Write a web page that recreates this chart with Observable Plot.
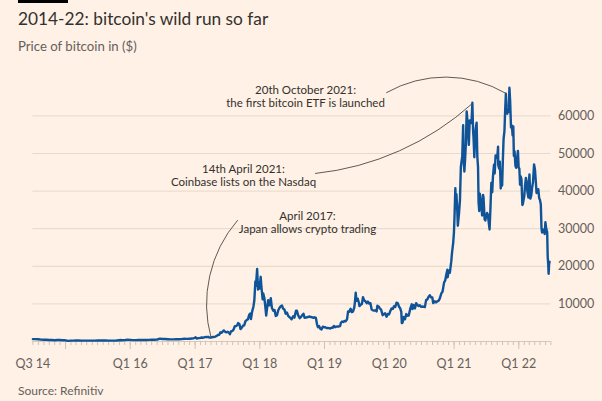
<!DOCTYPE html>
<html><head><meta charset="utf-8">
<script src="https://cdn.jsdelivr.net/npm/d3@7"></script>
<script src="https://cdn.jsdelivr.net/npm/@observablehq/plot@0.6"></script>
<style>
body{margin:0;background:#fff1e5;width:602px;height:401px;overflow:hidden;position:relative;font-family:Lato,"Noto Sans",sans-serif;}
#bar{position:absolute;left:18px;top:0;width:50px;height:3px;background:#000;}
#title{position:absolute;left:18px;top:9px;font-size:17.3px;color:#33302e;line-height:20px;white-space:nowrap}
#sub{position:absolute;left:18px;top:38px;font-size:13.2px;color:#66605c;line-height:16px;white-space:nowrap}
#src{position:absolute;left:18px;top:383px;font-size:12px;color:#66605c;line-height:15px;white-space:nowrap}
#chart{position:absolute;left:0;top:60px;}
svg text{font-family:Lato,"Noto Sans",sans-serif;}
</style></head>
<body>
<div id="bar"></div>
<div id="title">2014-22: bitcoin's wild run so far</div>
<div id="sub">Price of bitcoin in ($)</div>
<div id="chart"></div>
<div id="src">Source: Refinitiv</div>
<script>
const dates = [
"2014-07-01","2014-07-15","2014-08-01","2014-08-15","2014-09-01","2014-09-15","2014-10-01","2014-10-15","2014-11-01","2014-11-15","2014-12-01","2014-12-15",
"2015-01-01","2015-01-14","2015-02-01","2015-02-15","2015-03-01","2015-03-15","2015-04-01","2015-04-15","2015-05-01","2015-05-15","2015-06-01","2015-06-15","2015-07-01","2015-07-15","2015-08-01","2015-08-15","2015-09-01","2015-09-15","2015-10-01","2015-10-15","2015-11-01","2015-11-04","2015-11-15","2015-12-01","2015-12-15",
"2016-01-01","2016-01-15","2016-02-01","2016-02-15","2016-03-01","2016-03-15","2016-04-01","2016-04-15","2016-05-01","2016-05-15","2016-06-01","2016-06-17","2016-07-01","2016-07-15","2016-08-01","2016-08-15","2016-09-01","2016-09-15","2016-10-01","2016-10-15","2016-11-01","2016-11-15","2016-12-01","2016-12-15","2016-12-31",
"2017-01-04","2017-01-11","2017-01-18","2017-01-25","2017-02-01","2017-02-08","2017-02-15","2017-02-22","2017-03-01","2017-03-08","2017-03-15","2017-03-22","2017-03-29","2017-04-05","2017-04-12","2017-04-19","2017-04-26","2017-05-03","2017-05-10","2017-05-17","2017-05-24","2017-05-31","2017-06-07","2017-06-12","2017-06-19","2017-06-26","2017-07-03","2017-07-10","2017-07-16","2017-07-23","2017-07-30","2017-08-06","2017-08-13","2017-08-20","2017-08-27","2017-09-01","2017-09-08","2017-09-14","2017-09-21","2017-09-28","2017-10-05","2017-10-12","2017-10-19","2017-10-26","2017-11-02","2017-11-08","2017-11-12","2017-11-19","2017-11-26","2017-12-01","2017-12-07","2017-12-10","2017-12-17","2017-12-22","2017-12-27","2017-12-31",
"2018-01-06","2018-01-10","2018-01-17","2018-01-20","2018-01-27","2018-02-02","2018-02-06","2018-02-10","2018-02-17","2018-02-24","2018-03-04","2018-03-10","2018-03-18","2018-03-25","2018-04-01","2018-04-08","2018-04-15","2018-04-22","2018-04-29","2018-05-06","2018-05-13","2018-05-20","2018-05-27","2018-06-03","2018-06-10","2018-06-17","2018-06-24","2018-06-29","2018-07-08","2018-07-15","2018-07-24","2018-07-29","2018-08-05","2018-08-14","2018-08-21","2018-08-28","2018-09-04","2018-09-11","2018-09-18","2018-09-25","2018-10-02","2018-10-09","2018-10-16","2018-10-23","2018-10-30","2018-11-06","2018-11-13","2018-11-20","2018-11-25","2018-12-01","2018-12-08","2018-12-15","2018-12-22","2018-12-29",
"2019-01-05","2019-01-12","2019-01-19","2019-01-26","2019-02-02","2019-02-09","2019-02-16","2019-02-23","2019-03-02","2019-03-09","2019-03-16","2019-03-23","2019-03-30","2019-04-03","2019-04-10","2019-04-17","2019-04-24","2019-05-01","2019-05-08","2019-05-14","2019-05-21","2019-05-28","2019-06-04","2019-06-11","2019-06-18","2019-06-22","2019-06-26","2019-06-30","2019-07-07","2019-07-14","2019-07-17","2019-07-24","2019-07-31","2019-08-06","2019-08-13","2019-08-20","2019-08-27","2019-09-03","2019-09-10","2019-09-17","2019-09-24","2019-10-01","2019-10-08","2019-10-15","2019-10-22","2019-10-26","2019-11-02","2019-11-09","2019-11-16","2019-11-23","2019-11-25","2019-12-02","2019-12-09","2019-12-17","2019-12-24","2019-12-31",
"2020-01-07","2020-01-14","2020-01-21","2020-01-28","2020-02-04","2020-02-11","2020-02-18","2020-02-25","2020-03-03","2020-03-09","2020-03-12","2020-03-16","2020-03-23","2020-03-30","2020-04-06","2020-04-13","2020-04-20","2020-04-29","2020-05-07","2020-05-11","2020-05-18","2020-05-25","2020-06-01","2020-06-08","2020-06-15","2020-06-22","2020-06-29","2020-07-06","2020-07-13","2020-07-20","2020-07-27","2020-08-03","2020-08-10","2020-08-17","2020-08-24","2020-08-31","2020-09-05","2020-09-14","2020-09-21","2020-09-28","2020-10-05","2020-10-12","2020-10-21","2020-10-28","2020-11-05","2020-11-12","2020-11-18","2020-11-24","2020-11-26","2020-12-01","2020-12-08","2020-12-16","2020-12-20","2020-12-27","2020-12-31",
"2021-01-03","2021-01-08","2021-01-11","2021-01-14","2021-01-18","2021-01-22","2021-01-25","2021-01-29","2021-02-03","2021-02-08","2021-02-12","2021-02-16","2021-02-21","2021-02-23","2021-02-28","2021-03-04","2021-03-08","2021-03-13","2021-03-17","2021-03-22","2021-03-25","2021-03-30","2021-04-04","2021-04-09","2021-04-14","2021-04-18","2021-04-21","2021-04-25","2021-04-29","2021-05-03","2021-05-08","2021-05-12","2021-05-16","2021-05-19","2021-05-23","2021-05-26","2021-05-31","2021-06-05","2021-06-08","2021-06-13","2021-06-16","2021-06-22","2021-06-26","2021-07-01","2021-07-06","2021-07-10","2021-07-15","2021-07-20","2021-07-25","2021-07-30","2021-08-04","2021-08-08","2021-08-14","2021-08-18","2021-08-23","2021-08-28","2021-09-01","2021-09-06","2021-09-07","2021-09-12","2021-09-16","2021-09-21","2021-09-25","2021-09-29","2021-10-03","2021-10-07","2021-10-12","2021-10-16","2021-10-20","2021-10-24","2021-10-28","2021-11-01","2021-11-05","2021-11-09","2021-11-13","2021-11-18","2021-11-23","2021-11-27","2021-12-01","2021-12-04","2021-12-08","2021-12-13","2021-12-17","2021-12-22","2021-12-27","2021-12-31",
"2022-01-04","2022-01-08","2022-01-12","2022-01-16","2022-01-21","2022-01-24","2022-01-28","2022-02-01","2022-02-05","2022-02-10","2022-02-14","2022-02-18","2022-02-24","2022-02-28","2022-03-02","2022-03-07","2022-03-12","2022-03-17","2022-03-22","2022-03-28","2022-04-02","2022-04-06","2022-04-11","2022-04-16","2022-04-21","2022-04-26","2022-04-30","2022-05-05","2022-05-09","2022-05-12","2022-05-16","2022-05-21","2022-05-27","2022-05-31","2022-06-05","2022-06-10","2022-06-13","2022-06-16","2022-06-18","2022-06-21","2022-06-24"
];
const prices = [
640,620,590,500,480,470,385,395,325,390,380,350,
315,180,230,235,260,285,245,220,235,238,225,235,260,285,280,260,230,230,238,255,325,400,330,378,455,
433,375,372,405,432,415,417,430,450,455,535,750,675,665,605,570,575,610,610,640,730,710,750,780,960,
1130,780,890,890,990,1050,1010,1120,1220,1150,1250,1040,1040,1130,1200,1210,1310,1500,1750,1800,2450,2300,2700,2950,2600,2450,2600,2400,1930,2750,2750,3200,4050,4100,4350,4900,4600,3300,3650,4200,4300,5400,5700,5900,7100,7450,5950,8000,9300,10900,16000,14800,19300,13800,15700,14100,
17200,14500,11200,12800,11500,8800,6900,8500,11000,9600,11500,9000,8200,8400,6800,7000,8300,8900,9400,9600,8700,8500,7400,7700,6800,6500,6200,5900,6700,6350,8200,8200,7000,6200,6500,7000,7400,6300,6350,6450,6550,6650,6500,6450,6300,6450,6300,4500,3800,4150,3400,3200,3950,3800,
3800,3600,3600,3550,3450,3650,3650,4150,3800,3950,4000,4000,4100,4900,5300,5200,5450,5400,5900,8000,7900,8700,7800,8000,9100,10700,13000,10800,11400,10300,9400,9800,10000,11800,10900,10700,10200,10600,10100,10200,8500,8300,8200,8300,8000,9500,9300,8800,8500,7300,7000,7300,7500,6600,7300,7200,
8100,8800,8650,9400,9200,10300,10200,9300,8800,7900,4900,5000,6500,5900,7300,6850,6900,8800,9900,8600,9700,8800,10200,9700,9450,9650,9200,9300,9250,9150,11000,11200,11900,12300,11750,11700,10200,10700,10400,10700,10800,11400,12800,13300,15600,16300,17800,19100,17100,18800,18300,21300,23500,26300,29000,
32800,40800,35500,39200,36000,30800,32300,34300,37600,46400,47900,49200,57500,48800,45200,48400,52300,61200,58900,54500,52300,58800,58200,58100,63500,56200,53800,49000,53600,56600,58200,49100,46400,37000,34700,39300,37300,35800,33500,39000,38300,32500,32200,33500,34200,33800,31800,29800,35400,42200,39700,43800,47000,44700,49500,48900,48800,51800,46900,46000,47800,40700,42800,41500,48200,53800,56000,61500,65900,61000,60600,61300,61100,67500,64100,56900,57400,54800,57200,49400,50600,46700,46200,48600,50700,46300,
46000,41700,43900,43100,36300,36600,37700,38700,41400,43500,42500,40000,38300,43200,44400,38000,38800,40900,42400,47100,45800,43200,39500,40400,40500,38100,37700,36500,30100,29000,29800,29400,28600,31700,29900,29100,22500,20400,18000,20700,21200
];
const yTicks = [10000,20000,30000,40000,50000,60000];
const tickDates = ["2014-07-01","2016-01-01","2017-01-01","2018-01-01","2019-01-01","2020-01-01","2021-01-01","2022-01-01"];
const tickLabels = ["Q3 14","Q1 16","Q1 17","Q1 18","Q1 19","Q1 20","Q1 21","Q1 22"];
const annoLine1 = ["20th October 2021:","14th April 2021:","April 2017:"];
const annoLine2 = ["the first bitcoin ETF is launched","Coinbase lists on the Nasdaq","Japan allows crypto trading"];
const annoTextDate = ["2018-09-16","2017-10-01","2018-09-27"];
const annoTextPrice = [65300,44100,31600];
const annoFromDate = ["2019-12-17","2018-11-11","2017-08-28"];
const annoFromPrice = [66200,44700,32200];
const annoToDate = ["2021-10-20","2021-04-14","2017-04-01"];
const annoToPrice = [66000,63300,1000];
const annoBend = [30,-18,-28];

const data = dates.map((d,i)=>({date:new Date(d), price:prices[i]}));
const labelData = tickDates.map((d,i)=>({date:new Date(d), label:tickLabels[i]}));
const annos = annoLine1.map((t,i)=>({l1:t, l2:annoLine2[i], x:new Date(annoTextDate[i]), y:annoTextPrice[i],
  x1:new Date(annoFromDate[i]), y1:annoFromPrice[i], x2:new Date(annoToDate[i]), y2:annoToPrice[i], bend:annoBend[i]}));

const x0 = new Date("2014-07-01"), x1 = new Date("2022-07-01");
const months = d3.utcMonth.range(x0, new Date("2022-07-02"));
const years = d3.utcYear.range(new Date("2015-01-01"), new Date("2022-01-02"));

const chart = Plot.plot({
  width: 602, height: 315,
  marginLeft: 32.4, marginRight: 51.6, marginTop: 17.8, marginBottom: 34,
  style: {background: "transparent", fontFamily: "Lato, 'Noto Sans', sans-serif"},
  x: {type: "utc", domain: [x0, x1], axis: null},
  y: {type: "linear", domain: [0, 70000], axis: null},
  marks: [
    Plot.gridY(yTicks, {stroke: "#e6d8cb", strokeOpacity: 1}),
    Plot.axisY({ticks: yTicks, anchor: "right", tickSize: 0, tickPadding: 7, tickFormat: d => String(d), fontSize: 12.5, fill: "#66605c", label: null}),
    Plot.ruleY([0], {stroke: "#d6c9bd"}),
    Plot.axisX({ticks: months, tickSize: 4, tickFormat: () => "", stroke: "#cfc2b6", label: null}),
    Plot.axisX({ticks: years, tickSize: 8, tickFormat: () => "", stroke: "#cfc2b6", label: null}),
    Plot.text(labelData, {x: "date", y: 0, text: "label", dy: 22, fontSize: 12.5, fill: "#66605c"}),
    Plot.line(data, {x: "date", y: "price", stroke: "#0f5499", strokeWidth: 2.4, strokeLinejoin: "round"}),
    ...annos.map(a => Plot.arrow([a], {x1: "x1", y1: "y1", x2: "x2", y2: "y2", bend: a.bend, headLength: 0, stroke: "#4d4845", strokeWidth: 0.9})),
    Plot.text(annos, {x: "x", y: "y", text: "l1", dy: -6, fontSize: 11.5, fill: "#33302e", textAnchor: "middle"}),
    Plot.text(annos, {x: "x", y: "y", text: "l2", dy: 7, fontSize: 11.5, fill: "#33302e", textAnchor: "middle"})
  ]
});
document.getElementById("chart").appendChild(chart);
</script>
</body></html>
